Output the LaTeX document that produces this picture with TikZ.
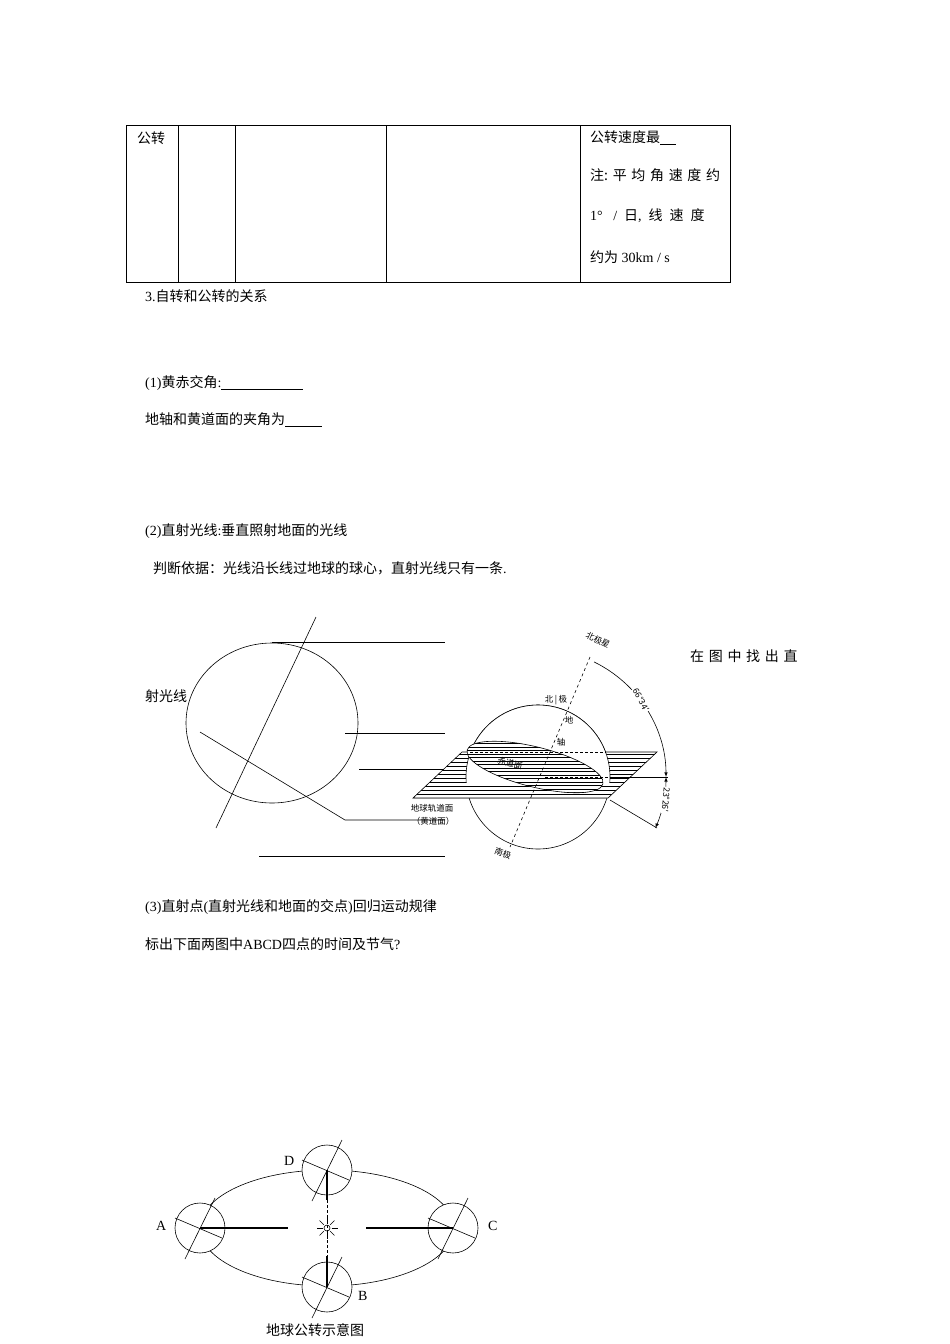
\documentclass[tikz,border=0pt]{standalone}
\usepackage{fontspec}
\setmainfont{Liberation Serif}
\newfontfamily\cjk{Noto Sans CJK SC}
\newcommand\zh[1]{{\cjk #1}}
\begin{document}
\begin{tikzpicture}[x=1pt,y=-1pt,
  txt/.style={anchor=west,inner sep=0pt,font=\fontsize{14}{16}\selectfont},
  sm/.style={inner sep=0pt,font=\fontsize{8.5}{9}\selectfont\cjk},
  thin/.style={line width=0.6pt},
  globe/.style={draw,fill=white,line width=0.6pt}]
\useasboundingbox (0,0) rectangle (950,1344);
% table
\draw[thin] (126,125) rectangle (730,282);
\foreach \x in {178,235,386,580} \draw[thin] (\x,125)--(\x,282);
\node[txt] (t0) at (137,138) {\zh{公转}};
\node[txt] (t1) at (590,138) {\zh{公转速度最}\rule[-2pt]{16pt}{0.7pt}};
\node[txt] (t2) at (590,175) {\zh{注:\,\,平\,\,均\,\,角\,\,速\,\,度\,\,约}};
\node[txt] (t3) at (590,216) {1°\ \ \ /\ \ \zh{日},\ \ \zh{线\,\,\,速\,\,\,度}};
\node[txt] (t4) at (590,257) {\zh{约为} 30km / s};
% texts
\node[txt] (s3) at (145,296) {3.\zh{自转和公转的关系}};
\node[txt] (s1) at (145,383) {(1)\zh{黄赤交角}:\rule[-2pt]{82pt}{0.7pt}};
\node[txt] (s1b) at (145,420) {\zh{地轴和黄道面的夹角为}\rule[-2pt]{37pt}{0.7pt}};
\node[txt] (s2) at (145,531) {(2)\zh{直射光线}:\zh{垂直照射地面的光线}};
\node[txt] (s2b) at (153,568) {\zh{判断依据：光线沿长线过地球的球心，直射光线只有一条}.};
\node[txt] (zz) at (690,656) {\zh{在\,\,图\,\,中\,\,找\,\,出\,\,直}};
\node[txt] (sg) at (145,696) {\zh{射光线}};
\node[txt] (s3a) at (145,907) {(3)\zh{直射点}(\zh{直射光线和地面的交点})\zh{回归运动规律}};
\node[txt] (s3b) at (145,944) {\zh{标出下面两图中}ABCD\zh{四点的时间及节气}?};
% left diagram
\draw[thin] (272,723) ellipse[x radius=86,y radius=80];
\draw[thin] (316,617)--(216,828);
\draw[thin] (200,732)--(345,820)--(445,820);
\draw[thin] (272,642)--(445,642);
\draw[thin] (345,733)--(445,733);
\draw[thin] (359,769)--(445,769);
\draw[thin] (259,856)--(445,856);
% right diagram
\draw[thin] (538,777) circle[radius=72];
\begin{scope}
\fill[white] (462,752)--(657,752)--(608,798)--(413,798)--cycle;
\clip (462,752)--(657,752)--(608,798)--(413,798)--cycle;
\foreach \y in {754,758,...,798} \draw[line width=0.5pt] (400,\y)--(670,\y);
\end{scope}
\draw[thin] (462,752)--(657,752)--(608,798)--(413,798)--cycle;
\begin{scope}
\clip (400,600) rectangle (700,782);
\draw[thin,fill=white] (538,777) circle[radius=72];
\end{scope}
\begin{scope}
\clip[rotate around={-14:(535,767)}] (535,767) ellipse[x radius=70,y radius=20];
\fill[white] (535,767) ellipse[x radius=80,y radius=40];
\foreach \y in {740,743.5,...,800} \draw[line width=0.5pt] (450,\y)--(620,\y);
\end{scope}
\draw[thin,rotate around={-14:(535,767)}] (535,767) ellipse[x radius=70,y radius=20];
\draw[thin,densely dashed] (470,752)--(606,752);
\draw[thin,densely dashed] (545,777)--(662,777);
\draw[thin] (610,777)--(668,777);
\draw[thin,dashed] (590,657)--(510,847);
\draw[thin] (610,800)--(657,828);
\draw[thin,-latex] (538,777) ++(-64:128) arc[start angle=-64,end angle=0,radius=128];
\draw[thin,latex-latex] (538,777) ++(0:128) arc[start angle=0,end angle=23.5,radius=128];
\node[sm,rotate=-25] (bjx) at (598,640) {北极星};
\node[sm] (bj) at (556,700) {北\,|\,极};
\node[sm] (di) at (569,720) {地};
\node[sm] (zh) at (561,742) {轴};
\node[sm,rotate=-12] (cdm) at (510,763) {赤道面};
\node[sm,rotate=-62,fill=white,inner sep=1pt] (a1) at (641,700) {66°34′};
\node[sm,rotate=-95,fill=white,inner sep=1pt] (a2) at (666,800) {23°26′};
\node[sm] (gd1) at (432,808) {地球轨道面};
\node[sm] (gd2) at (433,821) {（黄道面）};
\node[sm,rotate=-20] (nj) at (503,853) {南极};
% orbit diagram
\draw[thin] (327,1228) ellipse[x radius=127,y radius=58];
\foreach \n/\cx/\cy in {A/200/1228,C/453/1228,D/327/1170,B/327/1287}{
  \draw[globe] (\cx,\cy) circle[radius=25];
  \draw[thin] (\cx+15,\cy-30)--(\cx-15,\cy+31);
  \draw[thin] (\cx-25,\cy-10)--(\cx+22,\cy+10);
}
\draw[line width=1.2pt] (200,1228)--(288,1228);
\draw[line width=1.2pt] (366,1228)--(453,1228);
\draw[line width=1.2pt] (327,1170)--(327,1200);
\draw[line width=1.2pt] (327,1256)--(327,1287);
\draw[thin,densely dashed] (327,1200)--(327,1256);
\draw[thin] (327,1228) circle[radius=3];
\foreach \a in {0,45,...,315} \draw[thin] (327,1228) ++(\a:4.5) -- ++(\a:6);
\node[txt] (lA) at (156,1226) {A};
\node[txt] (lC) at (488,1226) {C};
\node[txt] (lD) at (284,1161) {D};
\node[txt] (lB) at (358,1296) {B};
\node[inner sep=0pt,font=\fontsize{14}{15}\selectfont\cjk] (cap) at (315,1330) {地球公转示意图};
\end{tikzpicture}
\end{document}
